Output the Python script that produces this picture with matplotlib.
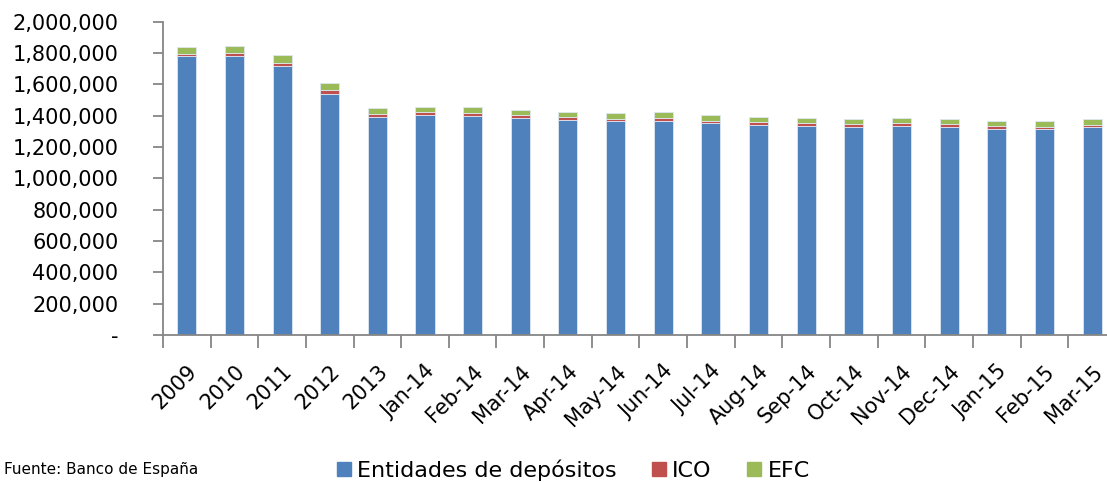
import matplotlib
matplotlib.use("Agg")
import matplotlib.pyplot as plt
import numpy as np
from matplotlib.patches import Patch
from matplotlib.ticker import FuncFormatter, FixedLocator

plt.rcParams["font.family"] = ["DejaVu Sans"]

categories = ["2009", "2010", "2011", "2012", "2013", "Jan-14", "Feb-14", "Mar-14",
              "Apr-14", "May-14", "Jun-14", "Jul-14", "Aug-14", "Sep-14", "Oct-14",
              "Nov-14", "Dec-14", "Jan-15", "Feb-15", "Mar-15"]

entidades = [1779000, 1783000, 1715000, 1539000, 1390000, 1403000, 1397000, 1388000,
             1373000, 1363000, 1369000, 1352000, 1342000, 1335000, 1329000,
             1335000, 1327000, 1316000, 1312000, 1327000]
ico = [15000, 19000, 23000, 25000, 19000, 19000, 19000, 15000,
       17000, 15000, 19000, 17000, 15000, 17000, 17000,
       17000, 19000, 17000, 17000, 15000]
efc = [47000, 45000, 47000, 42000, 41000, 36000, 41000, 36000,
       36000, 38000, 36000, 34000, 34000, 34000, 36000,
       36000, 36000, 36000, 36000, 34000]

BLUE = "#4F81BD"
RED = "#C0504D"
GREEN = "#9BBB59"
AXIS_GRAY = "#868686"

fig = plt.figure(figsize=(11.07, 4.83), dpi=100)
ax = fig.add_axes([0.1472, 0.3064, 0.8608, 0.6487])

x = np.arange(len(categories))
width = 0.4
edge = dict(edgecolor="#dfe7f1", linewidth=0.6)
ax.bar(x, entidades, width, color=BLUE, **edge)
ax.bar(x, ico, width, bottom=entidades, color=RED, **edge)
bottom2 = np.array(entidades) + np.array(ico)
ax.bar(x, efc, width, bottom=bottom2, color=GREEN, **edge)

ax.set_xlim(-0.5, len(categories) - 0.5)
ax.set_ylim(0, 2000000)
ax.set_yticks(np.arange(0, 2000001, 200000))
ax.yaxis.set_major_formatter(FuncFormatter(lambda v, _p: "-" if v == 0 else f"{int(v):,}"))

for side in ("top", "right"):
    ax.spines[side].set_visible(False)
for side in ("left", "bottom"):
    ax.spines[side].set_color(AXIS_GRAY)
    ax.spines[side].set_linewidth(1.3)

ax.tick_params(axis="y", direction="out", length=7, width=1.3, color=AXIS_GRAY,
               labelsize=15, pad=25, labelcolor="black")
ax.set_xticks(x)
ax.set_xticklabels(categories, rotation=45, ha="right", rotation_mode="anchor", fontsize=15)
ax.tick_params(axis="x", which="major", length=0, pad=19)
ax.xaxis.set_minor_locator(FixedLocator(np.arange(-0.5, len(categories), 1.0)))
ax.tick_params(axis="x", which="minor", direction="out", length=9, width=1.3, color=AXIS_GRAY)

handles = [Patch(color=BLUE, label="Entidades de depósitos"),
           Patch(color=RED, label="ICO"),
           Patch(color=GREEN, label="EFC")]
fig.legend(handles=handles, loc="center", bbox_to_anchor=(0.518, 0.027), ncol=3,
           frameon=False, fontsize=16, handlelength=0.6, handleheight=0.6,
           handletextpad=0.3, columnspacing=1.6)

fig.text(0.004, 0.027, "Fuente: Banco de España", fontsize=11, va="center", ha="left")

fig.savefig("out.png", dpi=100)
